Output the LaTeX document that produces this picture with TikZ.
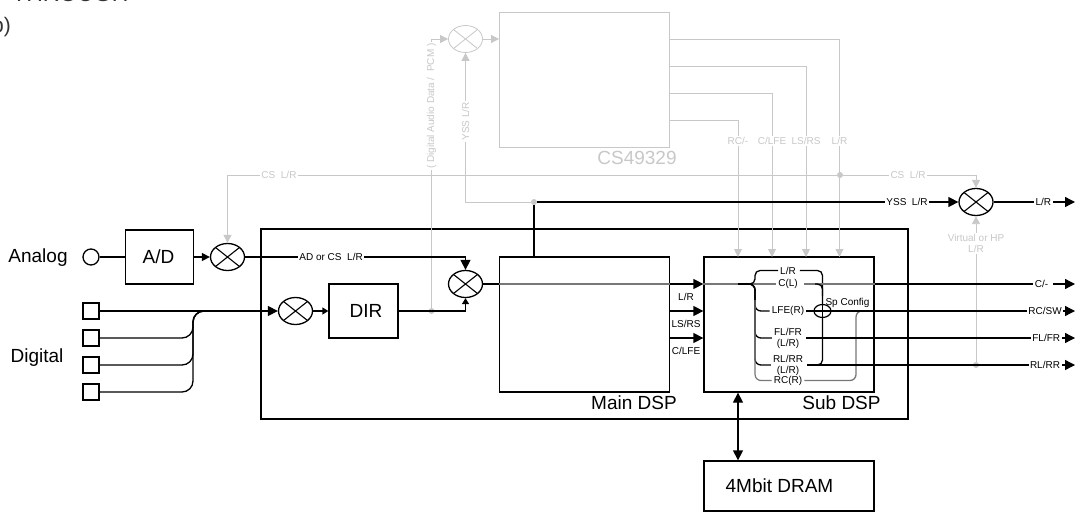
\documentclass[tikz,border=0pt]{standalone}
\usepackage{fontspec}
\setmainfont{Liberation Sans}
\usetikzlibrary{arrows.meta,shapes.geometric}

\definecolor{fadedgray}{HTML}{C8C8C8}
\definecolor{midgray}{HTML}{777777}

\newcommand*{\xmax}{1075}
\newcommand*{\ymax}{511}

\begin{document}
\begin{tikzpicture}
[
	x=1pt,y=-1pt,
	wire/.style={draw=black,line width=1.3pt},
	sig/.style={wire,-{Triangle[length=10pt,width=10pt]}},
	faded/.style={draw=fadedgray,line width=0.9pt},
	fadedsig/.style={faded,-{Triangle[length=8pt,width=8pt]}},
	block/.style={draw=black,line width=1.3pt,inner sep=0pt,font=\fontsize{19}{20}\selectfont},
	fadedblock/.style={draw=fadedgray,line width=0.9pt,inner sep=0pt},
	port/.style={draw=black,line width=1.3pt,inner sep=0pt,minimum size=16pt},
	mixer/.style={ellipse,draw=black,fill=white,line width=1.3pt,inner sep=0pt,minimum width=34pt,minimum height=27pt,
		path picture={\draw[line width=1.1pt] (path picture bounding box.north west) -- (path picture bounding box.south east)
			(path picture bounding box.south west) -- (path picture bounding box.north east);}},
	fadedmixer/.style={mixer,draw=fadedgray,line width=0.8pt,
		path picture={\draw[fadedgray,line width=0.8pt] (path picture bounding box.north west) -- (path picture bounding box.south east)
			(path picture bounding box.south west) -- (path picture bounding box.north east);}},
	adder/.style={ellipse,draw=black,fill=white,line width=1.2pt,inner sep=0pt,minimum width=17pt,minimum height=13pt},
	bigtext/.style={inner sep=0pt,font=\fontsize{19}{20}\selectfont},
	tag/.style={fill=white,inner sep=1.5pt,align=center,font=\fontsize{10}{11}\selectfont},
	fadedtag/.style={tag,text=fadedgray},
	bare/.style={inner sep=0pt,font=\fontsize{10}{11}\selectfont},
	dot/.style={circle,fill=fadedgray,inner sep=0pt,minimum size=6pt}
]
	\useasboundingbox (0,0) rectangle (\xmax,\ymax);

	% cut off text at the corner
	\node[anchor=base east,inner sep=0pt,text=black!80,font=\fontsize{21}{23}\selectfont] (cutb) at (11,33) {p)};
	\node[anchor=base west,inner sep=0pt,text=black!80,font=\fontsize{23}{25}\selectfont] (cuta) at (12,1.5) {THROUGH};

	% blocks
	\node[block,minimum width=647pt,minimum height=190pt] (chip) at (584.5,324) {};
	\node[block,minimum width=68pt,minimum height=54pt] (ad) at (159.5,257) {};
	\node[block,minimum width=69pt,minimum height=54pt] (dir) at (363.5,311) {};
	\node[block,minimum width=170pt,minimum height=135pt] (main) at (584.5,324.5) {};
	\node[block,minimum width=170pt,minimum height=135pt] (sub) at (789,324.5) {};
	\node[block,minimum width=170pt,minimum height=50pt] (dram) at (789,486) {};
	\node[fadedblock,minimum width=170pt,minimum height=135pt] (cs) at (584.5,79.5) {};
	\node[bigtext] (adlabel) at (158.5,257) {A/D};
	\node[bigtext] (dirlabel) at (366,311) {DIR};
	\node[bigtext] (dramlabel) at (779.5,486) {4Mbit DRAM};
	\node[bigtext,text=fadedgray] (cslabel) at (637,158) {CS49329};
	\node[bigtext] (mainlabel) at (634,403) {Main DSP};
	\node[bigtext] (sublabel) at (841.5,403) {Sub DSP};

	% inputs
	\node[bigtext] (analog) at (38,257.5) {Analog};
	\node[bigtext] (digital) at (37,358) {Digital};
	\node[circle,port] (ain) at (91,257) {};
	\node[port] (dig1) at (91,311) {};
	\node[port] (dig2) at (91,338) {};
	\node[port] (dig3) at (91,365) {};
	\node[port] (dig4) at (91,392) {};

	% mixers
	\node[mixer] (mixa) at (227.5,257) {};
	\node[mixer] (mixb) at (295.5,311) {};
	\node[mixer] (mixc) at (465.5,284) {};
	\node[mixer] (mixd) at (976,202) {};
	\node[fadedmixer] (mixt) at (465.5,39) {};

	% faded paths
	\node[dot] (dirdot) at (431.5,311) {};
	\node[dot] (yssdot) at (534,202) {};
	\node[dot] (csdot) at (840,175) {};
	\node[dot] (hpdot) at (976,365) {};
	\draw[fadedsig] (dirdot) |- node[fadedtag,rotate=90,pos=0.375] (pcmtag) {( Digital Audio Data /\ \ PCM )} (mixt.west);
	\draw[fadedsig] (yssdot) -| node[fadedtag,rotate=90,pos=0.77] (ysstag) {YSS L/R} (mixt.south);
	\draw[fadedsig] (mixt.east) -- (mixt.east -| cs.west);
	\draw[fadedsig] (csdot) -- (mixa.north |- csdot) -- (mixa.north);
	\draw[fadedsig] (csdot) -- (mixd.north |- csdot) -- (mixd.north);
	\node[fadedtag] (cstaga) at (279,175) {CS\ \ L/R};
	\node[fadedtag] (cstagb) at (908,175) {CS\ \ L/R};
	\draw[fadedsig] (hpdot) -- node[fadedtag,pos=0.81] (hptag) {Virtual or HP\\L/R} (mixd.south);
	\foreach \yy/\xx in {39/839.5,66/806,93/772,120/738}
	{
		\coordinate (csout\yy) at (cs.east |- 0,\yy);
		\coordinate (subin\yy) at (\xx,257);
		\draw[fadedsig] (csout\yy) -| (subin\yy);
	}
	\node[fadedtag] (taglr) at (839.5,141) {L/R};
	\node[fadedtag] (tagls) at (806,141) {LS/RS};
	\node[fadedtag] (tagcl) at (772,141) {C/LFE};
	\node[fadedtag] (tagrc) at (738,141) {RC/-};

	% digital inputs
	\coordinate (merge) at (228,311);
	\draw[sig] (dig1) -- (mixb.west);
	\draw[wire,rounded corners=11pt] (dig2) -- (193,338) -- (193,311) -- (merge);
	\draw[wire,rounded corners=11pt] (dig3) -- (193,365) -- (193,311) -- (merge);
	\draw[wire,rounded corners=11pt] (dig4) -- (193,392) -- (193,311) -- (merge);

	% analog input and main path
	\draw[wire] (ain) -- (ad);
	\draw[sig,-{Triangle[length=8pt,width=8pt]}] (ad) -- (mixa);
	\draw[sig] (mixa) -- node[tag,pos=0.39] (adtag) {AD or CS\ \ L/R} (mixc.north |- mixa) -- (mixc.north);
	\draw[sig,-{Triangle[length=6pt,width=7pt]}] (mixb) -- (dir);
	\draw[sig,-{Triangle[length=6pt,width=7pt]}] (dir) -| (mixc.south);
	\draw[wire] (main.north -| yssdot) -- (yssdot);
	\draw[sig] (yssdot) -- node[tag,pos=0.878] (ysslabel) {YSS\ \ L/R} (mixd);

	% main dsp to sub dsp
	\coordinate (mainline) at (main.west |- mixc);
	\coordinate (mainend) at (main.east |- mixc);
	\coordinate (subline) at (sub.west |- mixc);
	\coordinate (mainb) at (main.east |- 0,311);
	\coordinate (subb) at (sub.west |- 0,311);
	\coordinate (mainc) at (main.east |- 0,338);
	\coordinate (subc) at (sub.west |- 0,338);
	\draw[wire] (mixc) -- (mainline);
	\draw[draw=midgray,line width=1.4pt] (mainline) -- (mainend);
	\draw[sig] (mainend) -- (subline);
	\draw[sig] (mainb) -- (subb);
	\draw[sig] (mainc) -- (subc);
	\node[bare] (mainlr) at (686,296.5) {L/R};
	\node[bare] (mainls) at (686,323.5) {LS/RS};
	\node[bare] (maincl) at (686,351) {C/LFE};

	% sub dsp routing
	\coordinate (busa) at (738,284);
	\coordinate (busb) at (750,284);
	\node[bare] (lr) at (788,270.5) {L/R};
	\node[bare] (cl) at (788,284) {C(L)};
	\node[bare] (lfe) at (788,311) {LFE(R)};
	\node[bare,align=center] (flfr) at (788,338) {FL/FR\\(L/R)};
	\node[bare,align=center] (rlrr) at (788,365) {RL/RR\\(L/R)};
	\node[bare] (rcr) at (788,380.5) {RC(R)};
	\node[bare] (spconfig) at (847.5,303) {Sp Config};
	\node[adder] (plus) at (822.5,311) {};
	\draw[draw=midgray,line width=1.4pt] (subline) -- (busa);
	\draw[wire,line width=1.8pt] (busa) -- (busb);
	\draw[draw=midgray,line width=1.4pt] (busb) -- ([xshift=-2pt]cl.west);
	\draw[wire,rounded corners=5pt] (busb) -- (755,284) -- (755,270.5) -- ([xshift=-2pt]lr.west);
	\draw[wire,rounded corners=6pt] (busb) -- (755,284) -- (755,311) -- ([xshift=-2pt]lfe.west);
	\draw[wire,rounded corners=6pt] (busb) -- (755,284) -- (755,338) -- ([xshift=-2pt]flfr.west);
	\draw[wire,rounded corners=6pt] (busb) -- (755,284) -- (755,365) -- ([xshift=-2pt]rlrr.west);
	\draw[draw=midgray,line width=1.2pt,rounded corners=6pt] (755,300) -- (755,380.5) -- ([xshift=-2pt]rcr.west);
	\draw[wire,rounded corners=5pt] ([xshift=4pt]lr.east) -- (822.5,270.5) -- (plus.north);
	\draw[wire,rounded corners=5pt] ([xshift=4pt]rlrr.east) -- (822.5,365) -- (plus.south);
	\draw[wire] ([xshift=2pt]lfe.east) -- (plus.west);
	\draw[wire,line width=1.6pt] (plus.north) -- (plus.south);
	\draw[wire,line width=1.6pt] (plus.west) -- (plus.east);
	\draw[draw=midgray,line width=1.3pt,rounded corners=6pt] ([xshift=2pt]rcr.east) -- (856,380.5) -- (856,311) -- (874,311);

	% outputs
	\coordinate (outl) at (\xmax,202);
	\coordinate (outc) at (\xmax,284);
	\coordinate (outr) at (\xmax,311);
	\coordinate (outf) at (\xmax,338);
	\coordinate (outb) at (\xmax,365);
	\draw[draw=midgray,line width=1.4pt] ([xshift=6pt]cl.east) -- (sub.east |- cl);
	\draw[wire,rounded corners=5pt] (815,284) -- (822.5,284) -- (822.5,296);
	\draw[sig] (mixd) -- node[tag,pos=0.61] (outltag) {L/R} (outl);
	\draw[sig] (sub.east |- cl) -- node[tag,pos=0.84] (outctag) {C/-\ } (outc);
	\draw[sig] (plus.east) -- node[tag,pos=0.877] (outrtag) {RC/SW} (outr);
	\draw[sig] ([xshift=4pt]flfr.east) -- node[tag,pos=0.893] (outftag) {FL/FR} (outf);
	\draw[sig] ([xshift=4pt]rlrr.east) -- node[tag,pos=0.888] (outbtag) {RL/RR} (outb);

	% dram
	\draw[wire,{Triangle[length=10pt,width=10pt]}-{Triangle[length=10pt,width=10pt]}] (sub.south -| subin120) -- (dram.north -| subin120);
\end{tikzpicture}
\end{document}
